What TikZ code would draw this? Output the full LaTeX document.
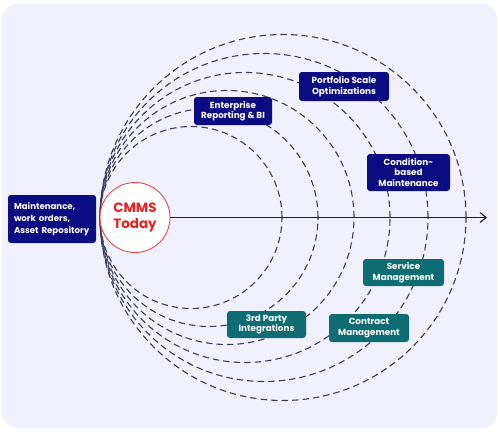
\documentclass[tikz,border=0pt]{standalone}
\usepackage{fontspec}
\setmainfont{Poppins}
\usetikzlibrary{arrows.meta}
\definecolor{bgc}{HTML}{F1F1FD}
\definecolor{navyb}{HTML}{0B0B82}
\definecolor{tealb}{HTML}{0E6D72}
\definecolor{dashc}{HTML}{3A3D5E}
\definecolor{axisc}{HTML}{1C1C3C}
\definecolor{redc}{HTML}{E8231E}
\definecolor{redb}{HTML}{E5474A}
\tikzset{
  ring/.style={draw=dashc, line width=1.1pt, dash pattern=on 6.5pt off 4pt},
  boxtext/.style={text=white, font=\bfseries\fontsize{8.8}{10.5}\selectfont, align=center, inner sep=0pt, rounded corners=3pt},
  navybox/.style={boxtext, fill=navyb},
  tealbox/.style={boxtext, fill=tealb},
  cmms/.style={circle, fill=white, draw=redb, line width=0.9pt, minimum size=70pt, inner sep=0pt, text=redc, font=\bfseries\fontsize{13.5}{16.5}\selectfont, align=center}
}
\begin{document}
\begin{tikzpicture}[x=1pt,y=-1pt]
\useasboundingbox (0,0) rectangle (500,434);
\fill[white] (0,0) rectangle (500,434);
\fill[bgc, rounded corners=15pt] (2,4) rectangle (497,428);
\foreach \r in {91,109,127,145,164,183}{
  \draw[ring] (100+\r,217.5) circle (\r pt);
}
\node[cmms] (c) at (135,217.5) {CMMS\\Today};
\coordinate (tip) at (487,217.5);
\draw[axisc, line width=1.2pt, -{Straight Barb[length=6pt,width=10pt,line width=1.2pt]}] (c.east) -- (tip);
\node[navybox, minimum width=88pt, minimum height=48pt, align=left, text width=76pt, font=\bfseries\fontsize{8.6}{12}\selectfont] (m) at (52,219) {Maintenance,\\work orders,\\Asset Repository};
\node[navybox, minimum width=78pt, minimum height=28pt] (e) at (233,111) {Enterprise\\Reporting \& BI};
\node[navybox, minimum width=90pt, minimum height=29pt] (p) at (344,86.5) {Portfolio Scale\\Optimizations};
\node[navybox, minimum width=83pt, minimum height=37pt] (cb) at (408.5,172.5) {Condition-\\based\\Maintenance};
\node[tealbox, minimum width=81pt, minimum height=27pt] (s) at (403.5,272.5) {Service\\Management};
\node[tealbox, minimum width=79pt, minimum height=27pt] (t) at (266.5,324.5) {3rd Party\\Integrations};
\node[tealbox, minimum width=80pt, minimum height=28pt] (k) at (369,328) {Contract\\Management};
\end{tikzpicture}
\end{document}
